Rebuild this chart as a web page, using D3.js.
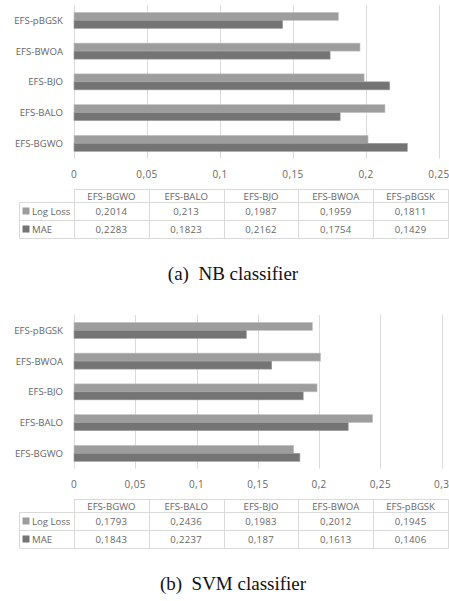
<!DOCTYPE html>
<html lang="en">
	<head>
		<meta charset="utf-8">
		<title>Log Loss and MAE per classifier</title>
		<script type="text/javascript" src="https://cdn.jsdelivr.net/npm/d3@7"></script>
		<style type="text/css">
			body { margin: 0; background: #fff; }
			svg { display: block; }
		</style>
	</head>
	<body>
		<script type="text/javascript">

			//Data
			var categories = ["EFS-BGWO", "EFS-BALO", "EFS-BJO", "EFS-BWOA", "EFS-pBGSK"];
			var seriesNames = ["Log Loss", "MAE"];

			var nbLogLoss = [0.2014, 0.213, 0.1987, 0.1959, 0.1811];
			var nbMAE     = [0.2283, 0.1823, 0.2162, 0.1754, 0.1429];
			var nbTicks   = [0, 0.05, 0.1, 0.15, 0.2, 0.25];

			var svmLogLoss = [0.1793, 0.2436, 0.1983, 0.2012, 0.1945];
			var svmMAE     = [0.1843, 0.2237, 0.187, 0.1613, 0.1406];
			var svmTicks   = [0, 0.05, 0.1, 0.15, 0.2, 0.25, 0.3];

			var captions = ["(a)  NB classifier", "(b)  SVM classifier"];

			//Width and height
			var w = 449;
			var h = 601;

			var fills = ["#9d9d9d", "#747474"];
			var strokes = ["#c4c4c4", "#9a9a9a"];
			var textColor = "#676767";
			var lineColor = "#dadada";
			var font = "'Open Sans', sans-serif";

			var svg = d3.select("body")
						.append("svg")
						.attr("width", w)
						.attr("height", h);

			//comma as decimal mark
			function fmt(v) {
				return String(v).replace(".", ",");
			}

			function drawPanel(top, series, ticks, xRight, caption) {
				var g = svg.append("g").attr("transform", "translate(0," + top + ")");

				var plotTop = 5, plotBottom = 158.7;
				var x0 = 74;

				var xScale = d3.scaleLinear()
							.domain([0, d3.max(ticks)])
							.range([x0, xRight]);

				//Excel draws the first category at the bottom
				var yScale = d3.scaleBand()
							.domain(categories.slice().reverse())
							.range([plotTop, plotBottom])
							.paddingInner(0.48)
							.paddingOuter(0.24);

				var ySub = d3.scaleBand()
							.domain(seriesNames)
							.range([0, yScale.bandwidth()]);

				//Gridlines
				g.selectAll("line.grid")
				   .data(ticks)
				   .enter()
				   .append("line")
				   .attr("class", "grid")
				   .attr("x1", function(d) { return Math.round(xScale(d)) + 0.5; })
				   .attr("x2", function(d) { return Math.round(xScale(d)) + 0.5; })
				   .attr("y1", plotTop)
				   .attr("y2", plotBottom)
				   .attr("stroke", lineColor)
				   .attr("stroke-width", 1);

				//Bars
				series.forEach(function(values, s) {
					g.selectAll("rect.s" + s)
					   .data(values)
					   .enter()
					   .append("rect")
					   .attr("class", "s" + s)
					   .attr("x", x0)
					   .attr("y", function(d, i) {
					   		return yScale(categories[i]) + ySub(seriesNames[s]);
					   })
					   .attr("width", function(d) {
					   		return xScale(d) - x0;
					   })
					   .attr("height", ySub.bandwidth())
					   .attr("fill", fills[s])
					   .attr("stroke", strokes[s])
					   .attr("stroke-width", 0.6);
				});

				//Category labels
				g.selectAll("text.cat")
				   .data(categories)
				   .enter()
				   .append("text")
				   .attr("class", "cat")
				   .text(function(d) { return d; })
				   .attr("text-anchor", "end")
				   .attr("x", 63)
				   .attr("y", function(d) { return yScale(d) + yScale.bandwidth() / 2 + 3.5; })
				   .attr("font-family", font)
				   .attr("font-size", "9.6px")
				   .attr("fill", textColor);

				//Tick labels
				g.selectAll("text.tick")
				   .data(ticks)
				   .enter()
				   .append("text")
				   .attr("class", "tick")
				   .text(function(d) { return fmt(d); })
				   .attr("text-anchor", "middle")
				   .attr("x", function(d) { return xScale(d); })
				   .attr("y", 177.5)
				   .attr("font-family", font)
				   .attr("font-size", "10px")
				   .attr("letter-spacing", "0.4px")
				   .attr("fill", textColor);

				//Data table
				var colX = d3.scaleBand()
							.domain(categories)
							.range([74, 448]);
				var rowY = [189.5, 202.5, 220.5, 238.5];
				var legendLeft = 19.5;

				var hLines = [
					[colX.range()[0], rowY[0]],
					[legendLeft, rowY[1]],
					[legendLeft, rowY[2]],
					[legendLeft, rowY[3]]
				];
				g.selectAll("line.hrow")
				   .data(hLines)
				   .enter()
				   .append("line")
				   .attr("class", "hrow")
				   .attr("x1", function(d) { return d[0]; })
				   .attr("x2", 448.5)
				   .attr("y1", function(d) { return d[1]; })
				   .attr("y2", function(d) { return d[1]; })
				   .attr("stroke", lineColor);

				var vLines = categories.map(function(c) { return Math.round(colX(c)) + 0.5; });
				vLines.push(448.5);
				g.selectAll("line.vcol")
				   .data(vLines)
				   .enter()
				   .append("line")
				   .attr("class", "vcol")
				   .attr("x1", function(d) { return d; })
				   .attr("x2", function(d) { return d; })
				   .attr("y1", rowY[0])
				   .attr("y2", rowY[3])
				   .attr("stroke", lineColor);
				g.append("line")
				   .attr("x1", legendLeft).attr("x2", legendLeft)
				   .attr("y1", rowY[1]).attr("y2", rowY[3])
				   .attr("stroke", lineColor);

				//header
				g.selectAll("text.head")
				   .data(categories)
				   .enter()
				   .append("text")
				   .attr("class", "head")
				   .text(function(d) { return d; })
				   .attr("text-anchor", "middle")
				   .attr("x", function(d) { return colX(d) + colX.bandwidth() / 2; })
				   .attr("y", rowY[0] + 10.5)
				   .attr("font-family", font)
				   .attr("font-size", "9.6px")
				   .attr("fill", textColor);

				//legend keys + values
				series.forEach(function(values, s) {
					var yMid = (rowY[s + 1] + rowY[s + 2]) / 2;

					g.append("rect")
					   .attr("x", 22.5)
					   .attr("y", yMid - 4)
					   .attr("width", 7)
					   .attr("height", 7)
					   .attr("fill", fills[s]);

					g.append("text")
					   .text(seriesNames[s])
					   .attr("x", 32)
					   .attr("y", yMid + 3.5)
					   .attr("font-family", font)
					   .attr("font-size", "9.6px")
					   .attr("fill", textColor);

					g.selectAll("text.v" + s)
					   .data(values)
					   .enter()
					   .append("text")
					   .attr("class", "v" + s)
					   .text(function(d) { return fmt(d); })
					   .attr("text-anchor", "middle")
					   .attr("x", function(d, i) { return colX(categories[i]) + colX.bandwidth() / 2; })
					   .attr("y", yMid + 3.5)
					   .attr("font-family", font)
					   .attr("font-size", "9.6px")
					   .attr("letter-spacing", "0.3px")
					   .attr("fill", textColor);
				});

				//Caption
				g.append("text")
				   .text(caption)
				   .attr("text-anchor", "middle")
				   .attr("x", 233)
				   .attr("y", 280)
				   .attr("font-family", "'Liberation Serif', 'Times New Roman', serif")
				   .attr("font-size", "19px")
				   .style("white-space", "pre")
				   .attr("fill", "#111");
			}

			drawPanel(0, [nbLogLoss, nbMAE], nbTicks, 439, captions[0]);
			drawPanel(310, [svmLogLoss, svmMAE], svmTicks, 441.7, captions[1]);

		</script>
	</body>
</html>
